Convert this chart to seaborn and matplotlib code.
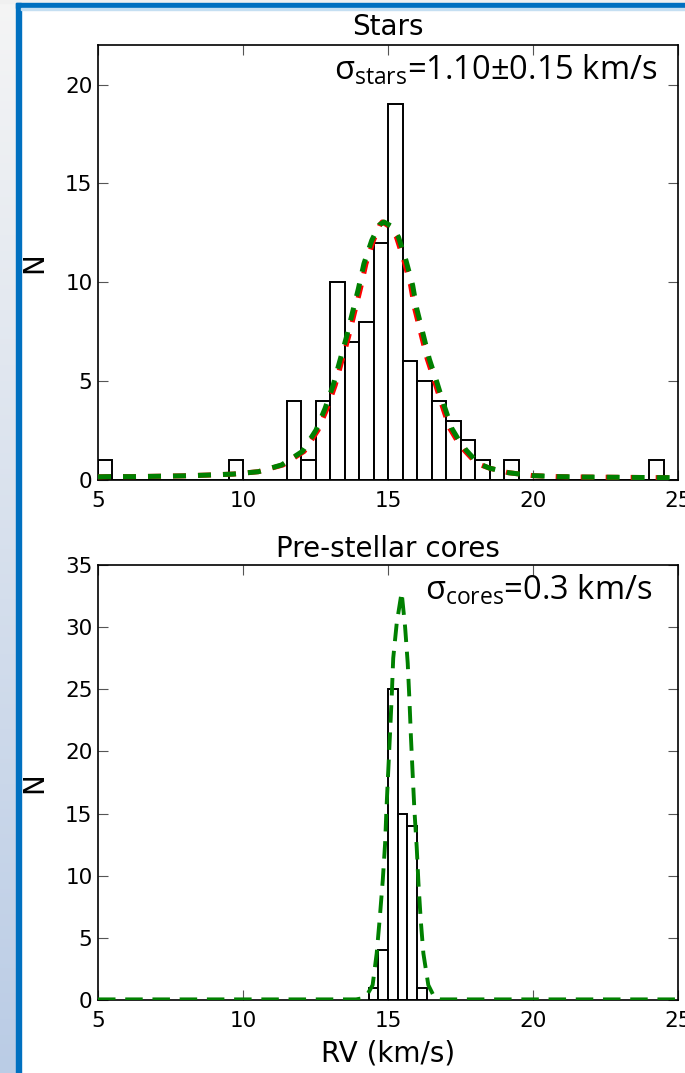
import numpy as np
import pandas as pd
import matplotlib
matplotlib.use("Agg")
import matplotlib.pyplot as plt
import seaborn as sns
from matplotlib.patches import Rectangle

# stars: centres of the non-empty 0.5 km/s bins and their counts
star_rv = [5.25, 9.75, 11.75, 12.25, 12.75, 13.25, 13.75, 14.25, 14.75, 15.25,
           15.75, 16.25, 16.75, 17.25, 17.75, 18.25, 19.25, 24.25]
star_n = [1, 1, 4, 1, 4, 10, 7, 8, 12, 19, 6, 5, 4, 3, 2, 1, 1, 1]

# fitted models for the stars
star_fit_x = [5.0, 5.36, 6.22, 7.08, 7.94, 8.8, 9.67, 10.53, 11.33, 12.05, 12.52,
              12.83, 13.11, 13.34, 13.57, 13.78, 13.98, 14.17, 14.44, 14.7, 14.86,
              15.1, 15.36, 15.62, 15.85, 15.99, 16.22, 16.42, 16.68, 16.93, 17.2,
              17.45, 17.69, 18.11, 18.5, 19.15, 20.0, 20.87, 21.73, 22.6, 23.46,
              24.27, 25.0]
star_fit_red_x = [5.0, 5.36, 6.22, 7.08, 7.94, 8.8, 9.67, 10.53, 11.38, 12.11, 12.59,
                  12.9, 13.18, 13.41, 13.64, 13.85, 14.05, 14.24, 14.5, 14.72, 14.8,
                  15.02, 15.29, 15.55, 15.78, 15.92, 16.15, 16.35, 16.61, 16.86, 17.13,
                  17.38, 17.62, 18.05, 18.5, 19.15, 20.0, 20.87, 21.73, 22.6, 23.46,
                  24.27, 25.0]
star_fit_n = [0.16, 0.17, 0.17, 0.19, 0.21, 0.25, 0.3, 0.42, 0.76, 1.45, 2.53,
              3.62, 4.8, 6.03, 7.24, 8.5, 9.68, 10.94, 12.12, 12.9, 13.05,
              12.85, 12.29, 11.1, 9.85, 8.67, 7.32, 6.14, 4.97, 3.79, 2.61,
              2.0, 1.52, 0.84, 0.6, 0.37, 0.22, 0.17, 0.15, 0.14, 0.13,
              0.12, 0.12]

# pre-stellar cores: 1/3 km/s bins
core_edges = [14 + 1/3, 14 + 2/3, 15.0, 15 + 1/3, 15 + 2/3, 16.0, 16 + 1/3]
core_rv = [14.5, 14.83, 15.17, 15.5, 15.83, 16.17]
core_n = [1, 4, 25, 15, 14, 1]

core_fit_x = [5.0, 13.9, 14.09, 14.3, 14.47, 14.61, 14.72, 14.82, 14.9, 14.95,
              15.01, 15.07, 15.13, 15.18, 15.3, 15.47, 15.59, 15.68, 15.74, 15.79,
              15.85, 15.91, 15.99, 16.05, 16.13, 16.22, 16.39, 16.62, 16.8, 25.0]
core_fit_n = [0.05, 0.05, 0.13, 0.5, 1.2, 3.75, 6.7, 9.65, 12.6, 15.55,
              18.5, 21.46, 24.5, 27.5, 30.3, 32.8, 30.0, 27.1, 24.1, 21.2,
              18.2, 15.3, 12.3, 9.4, 6.4, 3.75, 1.2, 0.13, 0.05, 0.05]

stars_df = pd.DataFrame({'rv': star_rv, 'n': star_n})
cores_df = pd.DataFrame({'rv': core_rv, 'n': core_n})
star_bins = list(np.arange(5, 25.01, 0.5))

sns.set_style("ticks")
plt.rcParams['mathtext.fontset'] = 'custom'
plt.rcParams['mathtext.rm'] = 'Open Sans'
plt.rcParams['font.family'] = ['DejaVu Sans']
plt.rcParams['text.color'] = 'black'
plt.rcParams['axes.labelcolor'] = 'black'
plt.rcParams['xtick.color'] = 'black'
plt.rcParams['ytick.color'] = 'black'

W, H = 685, 1073
fig = plt.figure(figsize=(W / 100, H / 100), dpi=100)
fig.patch.set_facecolor('white')

# slide frame: gradient strip on the left, blue border lines
bg = fig.add_axes([0, 0, 16 / W, 1])
t = np.linspace(0, 1, 256)[:, None]
top_c = np.array([0.96, 0.96, 0.96])
bot_c = np.array([0.73, 0.80, 0.90])
grad = top_c[None, None, :] * (1 - t[..., None]) + bot_c[None, None, :] * t[..., None]
grad = np.repeat(grad, 4, axis=1)
bg.imshow(grad, aspect='auto', extent=[0, 1, 0, 1])
bg.axis('off')
fig.add_artist(Rectangle((0, 1 - 3 / H), 1, 3 / H, color='#f0f0f0', transform=fig.transFigure))
fig.add_artist(Rectangle((16 / W, 0), 5 / W, 1 - 3 / H, color='#0070c0', transform=fig.transFigure))
fig.add_artist(Rectangle((16 / W, 1 - 8 / H), 1, 5 / H, color='#0070c0', transform=fig.transFigure))
fig.add_artist(Rectangle((21 / W, 1 - 10 / H), 1, 2 / H, color='#c5dff2', transform=fig.transFigure))

ax1 = fig.add_axes([98 / W, 1 - 480 / H, 580 / W, 435 / H])
ax2 = fig.add_axes([98 / W, 1 - 1000 / H, 580 / W, 435 / H])

bar_kw = dict(fill=True, color='white', edgecolor='black', linewidth=1.4, alpha=1)

sns.histplot(data=stars_df, x='rv', weights='n', bins=star_bins, ax=ax1, **bar_kw)
sns.lineplot(x=star_fit_red_x, y=star_fit_n, ax=ax1, color='red', lw=3.6,
             linestyle=(0, (2.6, 2.4)), estimator=None, zorder=4)
sns.lineplot(x=star_fit_x, y=star_fit_n, ax=ax1, color='green', lw=3.6,
             linestyle=(0, (2.6, 2.4)), estimator=None, zorder=5)

sns.histplot(data=cores_df, x='rv', weights='n', bins=core_edges, ax=ax2, **bar_kw)
sns.lineplot(x=core_fit_x, y=core_fit_n, ax=ax2, color='green', lw=2.8,
             linestyle=(0, (4.5, 2.5)), estimator=None, zorder=5)

for ax, top, title, pad in [(ax1, 22, 'Stars', 7), (ax2, 35, 'Pre-stellar cores', 6)]:
    ax.set_xlim(5, 25)
    ax.set_ylim(0, top)
    ax.set_xticks([5, 10, 15, 20, 25])
    ax.set_yticks(range(0, top + 1, 5))
    ax.tick_params(direction='in', top=True, right=True, length=7, width=0.8,
                   color='#555555', labelcolor='black', labelsize=15.5)
    ax.tick_params(axis='x', pad=8)
    ax.tick_params(axis='y', pad=4)
    for s in ax.spines.values():
        s.set_linewidth(1.2)
        s.set_color('black')
    ax.set_title(title, fontsize=20, pad=pad, color='black')
    ax.set_ylabel('N', fontsize=20, labelpad=12, color='black')
    ax.set_xlabel('')

ax2.set_xlabel('RV (km/s)', fontsize=20, labelpad=6, color='black')

ax1.text(0.964, 0.9195, r'$\mathregular{σ_{stars}}$=1.10±0.15 km/s', transform=ax1.transAxes,
         ha='right', va='baseline', fontsize=23.5, family='Open Sans', color='black')
ax2.text(0.955, 0.9195, r'$\mathregular{σ_{cores}}$=0.3 km/s', transform=ax2.transAxes,
         ha='right', va='baseline', fontsize=23.5, family='Open Sans', color='black')

fig.savefig('out.png', dpi=100)
